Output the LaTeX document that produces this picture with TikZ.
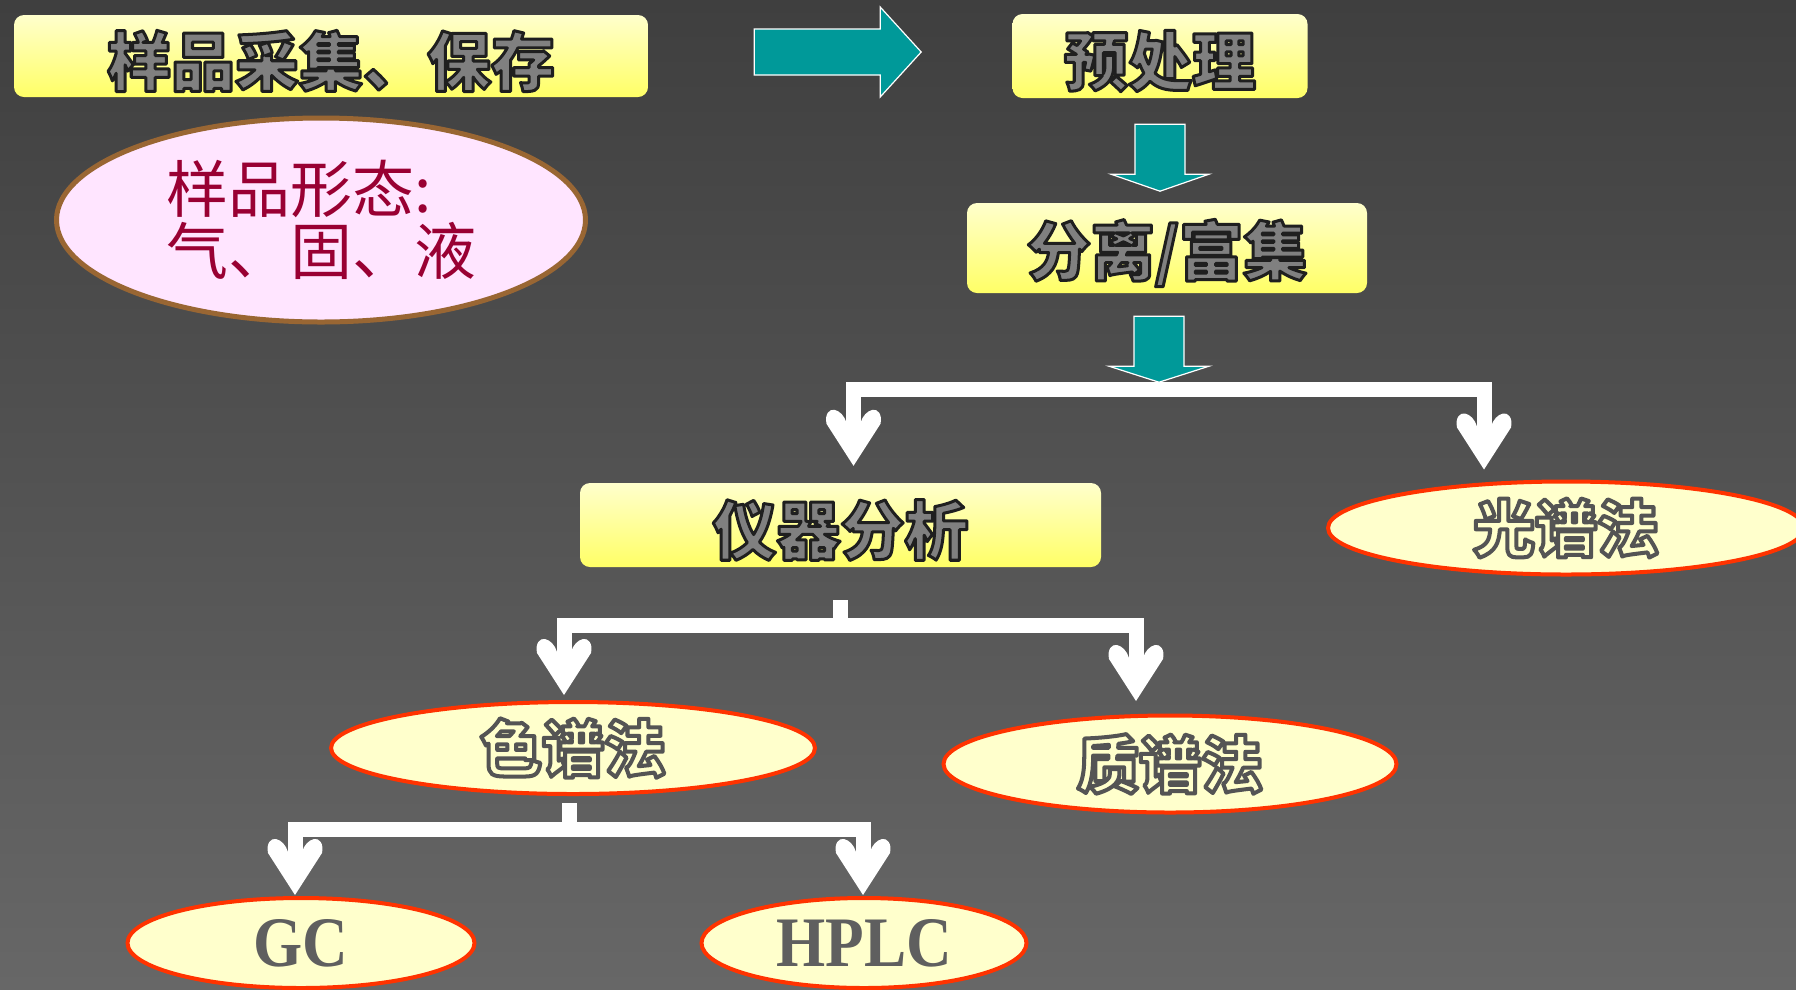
\documentclass[tikz,border=0pt]{standalone}
\usepackage{fontspec}
\usepackage{graphicx}
\setmainfont{Liberation Serif}
\newfontfamily\cjk{Noto Sans CJK SC}
\usetikzlibrary{shapes.geometric,calc}
\definecolor{bgtop}{HTML}{3F3F3F}
\definecolor{bgbot}{HTML}{676767}
\definecolor{boxtop}{HTML}{FFFFCC}
\definecolor{boxbot}{HTML}{FFFF66}
\definecolor{myteal}{HTML}{009999}
\definecolor{ovfill}{HTML}{FFFFCC}
\definecolor{ovline}{HTML}{FF3300}
\definecolor{pinkfill}{HTML}{FFE5FF}
\definecolor{mybrown}{HTML}{996633}
\definecolor{wine}{HTML}{990033}
\definecolor{gctext}{HTML}{5F5F5F}
\newcommand\boxtext[1]{\raisebox{-5pt}[\height][\depth]{\special{pdf:code q 3 w 1 j 2 Tr 0.12 0.12 0.12 RG 0.5 0.5 0.5 rg}#1\special{pdf:code Q}}}
\newcommand\ovtext[1]{\special{pdf:code q 4 w 1 j 2 Tr 0.33 0.33 0.33 RG 1 1 0.8 rg}#1\special{pdf:code Q}}
\newcommand\whead[1]{\fill[white,shift={(#1)}] (0,0) -- (-27,-42) .. controls (-29,-52) and (-24,-57) .. (-19,-56) .. controls (-14,-55) and (-9,-50) .. (-7,-43) -- (7,-43) .. controls (9,-50) and (14,-55) .. (19,-56) .. controls (24,-57) and (29,-52) .. (27,-42) -- cycle;}
\tikzset{
  box/.style={rounded corners=10pt, top color=boxtop, bottom color=boxbot, draw=none, inner sep=0pt, font=\cjk\bfseries\fontsize{64}{64}\selectfont},
  oval/.style={ellipse, draw=ovline, line width=4pt, fill=ovfill, inner sep=0pt, font=\cjk\bfseries\fontsize{62}{62}\selectfont},
  wline/.style={draw=white, line width=15pt, line join=miter, line cap=butt},
  tealarrow/.style={fill=myteal, draw=white, line width=1.2pt, line join=miter},
}
\begin{document}
\begin{tikzpicture}[x=1pt,y=-1pt]
\useasboundingbox (0,0) rectangle (1796,989);
\clip (0,0) rectangle (1796,989);
\shade[top color=bgtop,bottom color=bgbot] (0,0) rectangle (1796,989);

% nodes
\node[box,minimum width=634pt,minimum height=82pt] (collect) at (331,56) {\boxtext{样品采集、保存}};
\node[box,minimum width=295pt,minimum height=84pt] (pre) at (1160,56) {\boxtext{预处理}};
\node[box,minimum width=400pt,minimum height=90pt] (sep) at (1167,248) {\boxtext{分离/富集}};
\node[box,minimum width=521pt,minimum height=84pt] (inst) at (840.5,525) {\boxtext{仪器分析}};
\node[ellipse,draw=mybrown,line width=5pt,fill=pinkfill,minimum width=529pt,minimum height=204pt,inner sep=0pt,align=left,text=wine,font=\cjk\fontsize{62}{62}\selectfont] (form) at (321,220) {样品形态:\\气、固、液};
\node[oval,minimum width=476pt,minimum height=93pt] (spec) at (1566,528) {\ovtext{光谱法}};
\node[oval,minimum width=484pt,minimum height=92pt] (chrom) at (573,748) {\ovtext{色谱法}};
\node[oval,minimum width=453pt,minimum height=97pt] (mass) at (1170,764) {\ovtext{质谱法}};
\node[oval,minimum width=347pt,minimum height=90pt,text=gctext,font=\bfseries\fontsize{71}{71}\selectfont] (gc) at (301,943) {\scalebox{0.89}[1]{GC}};
\node[oval,minimum width=325pt,minimum height=90pt,text=gctext,font=\bfseries\fontsize{71}{71}\selectfont] (hplc) at (864,943) {\scalebox{0.89}[1]{HPLC}};

% white branch connectors
\coordinate (t1) at ($(inst.north)+(13,-17)$);
\coordinate (t2) at ($(spec.north)+(-82,-10)$);
\coordinate (j1) at ($(sep.south)+(-8,96.5)$);
\draw[wline] ($(t1)+(0,-40)$) |- (j1) -| ($(t2)+(0,-40)$);
\whead{t1}\whead{t2}

\coordinate (j2) at ($(inst.south)+(0,58)$);
\coordinate (t3) at ($(chrom.north)+(-9,-5)$);
\coordinate (t4) at ($(mass.north)+(-34,-12.5)$);
\draw[wline] ($(inst.south)+(0,33)$) -- (j2);
\draw[wline] ($(t3)+(0,-40)$) |- (j2) -| ($(t4)+(0,-40)$);
\whead{t3}\whead{t4}

\coordinate (j3) at ($(chrom.south)+(-4,33)$);
\coordinate (t5) at ($(gc.north)+(-6,-1)$);
\coordinate (t6) at ($(hplc.north)+(-1,-1)$);
\draw[wline] ($(chrom.south)+(-4,7)$) -- (j3);
\draw[wline] ($(t5)+(0,-40)$) |- (j3) -| ($(t6)+(0,-40)$);
\whead{t5}\whead{t6}

% teal block arrows
\path[tealarrow] ($(collect.east)+(106,-27)$) -- ++(126,0) -- ++(0,-22) -- ++(41,45) -- ++(-41,45) -- ++(0,-22) -- ++(-126,0) -- cycle;
\path[tealarrow] ($(pre.south)+(-25,26)$) -- ++(50,0) -- ++(0,50) -- ++(24,0) -- ++(-49,17) -- ++(-49,-17) -- ++(24,0) -- cycle;
\path[tealarrow] ($(sep.south)+(-33,23)$) -- ++(50,0) -- ++(0,50) -- ++(25,0) -- ++(-50,16) -- ++(-50,-16) -- ++(25,0) -- cycle;
\end{tikzpicture}
\end{document}
